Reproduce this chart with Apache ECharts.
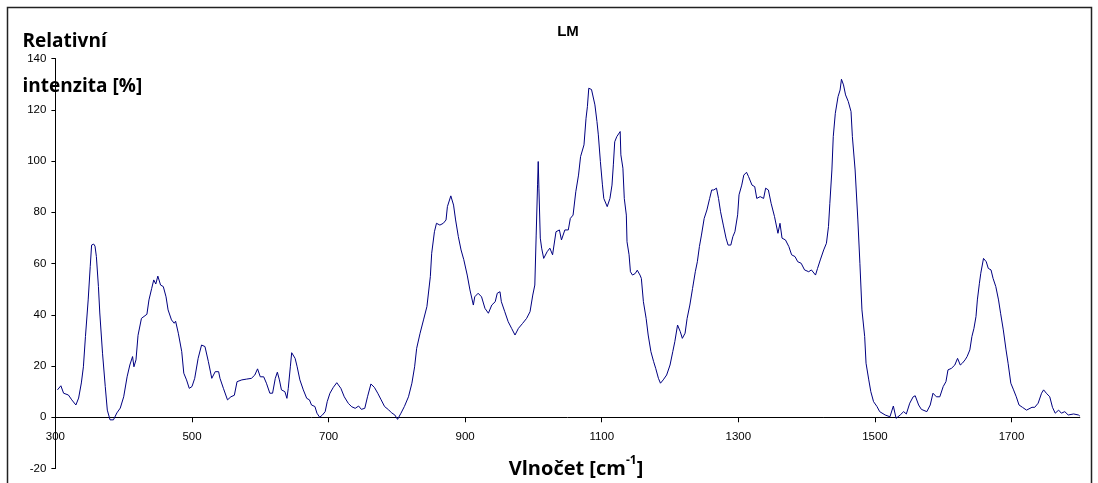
<!DOCTYPE html>
<html>
<head>
<meta charset="utf-8">
<script src="https://cdn.jsdelivr.net/npm/echarts@6/dist/echarts.min.js"></script>
<style>
html,body{margin:0;padding:0;background:#fff;}
#c{width:1098px;height:483px;}
</style>
</head>
<body>
<div id="c"></div>
<script>
// Wavenumbers [cm-1] and relative intensity [%]
const wavenumbers = [
303,308,312,319,324,330,334,338,341,344,348,351,353,356,358,360,363,365,369,373,376,380,385,390,395,400,405,409,413,415,418,421,426,434,437,441,444,447,450,454,458,462,465,470,474,476,480,485,488,492,496,500,
504,509,514,519,524,529,534,539,541,546,552,557,562,566,573,580,587,592,596,600,605,609,614,618,622,625,628,631,636,639,641,644,646,651,654,658,663,668,672,675,680,683,687,691,695,698,702,707,712,
714,718,723,729,734,739,744,748,753,757,762,767,772,777,782,788,792,797,801,806,811,817,822,826,829,834,839,844,849,851,855,858,863,868,872,874,879,883,886,890,894,898,
903,907,912,914,919,924,929,934,939,944,947,951,953,958,963,968,973,978,984,990,995,999,1002,1004,1006,1007,1008,1010,1012,1015,1020,1024,1028,1033,1038,1041,1046,1051,1054,1058,1062,1066,1069,1074,1077,1079,1081,1085,1090,1093,1095,1098,1101,
1103,1108,1112,1115,1117,1119,1122,1124,1127,1128,1131,1133,1136,1137,1140,1142,1145,1149,1152,1156,1158,1161,1165,1168,1172,1176,1179,1183,1186,1190,1195,1200,1204,1207,1211,1215,1218,1222,1225,1229,1233,1237,1240,1243,1246,1250,1254,1258,1261,1264,1268,1271,1274,1278,1282,1285,1289,1292,1295,1299,1301,1305,1308,1312,
1315,1320,1324,1327,1332,1337,1340,1344,1348,1353,1358,1361,1364,1369,1374,1378,1383,1387,1392,1397,1403,1407,1413,1416,1420,1425,1429,1432,1434,1437,1439,1442,1446,1449,1451,1454,1457,1461,1465,1467,1471,1475,1478,1481,1485,1487,1491,1494,1498,1503,
1507,1515,1522,1527,1531,1537,1542,1546,1551,1556,1559,1564,1568,1576,1581,1585,1590,1595,1600,1604,1607,1612,1617,1621,1625,1628,1632,1635,1639,1642,1645,1648,1650,1653,1655,1659,1663,1666,1670,1673,1677,1681,1684,1688,1692,1695,1699,1703,1707,1711,1716,1722,1730,1734,1739,1744,1747,1751,1756,1760,1764,1769,1773,1778,1783,1791,1798,1800
];
const intensity = [
10.7,12.3,9.4,8.7,6.8,4.8,7.5,13.4,19.7,31.5,45.8,58.8,67.2,67.6,66.8,62.7,51,40.7,25,12,2.8,-1,-1,1.7,3.6,8,15.8,20.4,23.7,19.7,22.4,32,38.6,40.2,45.8,50.3,53.6,52,55.1,51.6,51,47,41.9,38,36.7,37.5,32.8,25.6,17.2,14.6,11.3,12,
15.2,23,28.2,27.6,21.7,15.2,17.8,17.8,15.2,11.3,6.8,8,8.6,13.9,14.6,14.9,15.2,16.5,18.9,15.8,15.8,13.3,9.4,9.4,15.2,17.6,14.6,10.7,10,7.4,11.3,19.7,25.2,23,19.7,14.6,10.7,7.4,6.8,4.8,4.2,1.6,0,0.9,2.2,6.1,9.4,11.7,13.5,
13.9,11.3,8,5.4,4.1,3.5,4.4,3.1,3.5,8,13,11.7,9.4,6.8,4.2,2.9,1.8,0.9,-0.8,1.6,4.2,8,13.3,19.7,26.9,32.8,38,43.2,54.9,64,72.4,75.7,75,75.7,77,82.2,86.4,82.8,77,70.5,65.3,61.5,
55.5,49.7,43.8,47,48.4,47,42.5,40.6,43.8,45.1,48.4,49,45.1,41.2,37.3,34.7,32.1,34.7,36.6,38.6,41.2,47.7,51.6,71.1,90.7,99.8,89.4,69.9,66,62,64.6,66,63.4,72.4,73.1,69.2,73.1,73.1,77.6,78.9,88,94.5,101.7,106.3,116.7,121.2,128.4,127.9,121.9,115.4,110.2,99.8,90.7,
85.4,82.2,85.4,90.6,98.5,107.5,109.5,110.2,111.5,102.4,97.2,85.4,78.9,68.5,63.4,56.8,55.5,56.1,57.4,55.5,54.2,45.1,38.6,32.1,25.6,21.7,19.1,15.2,13.3,14.6,16.5,20.4,25.6,29.5,36,33.4,30.8,32.8,38.6,43.8,50.3,56.8,60.7,66.6,71.1,77.6,80.9,85.4,88.7,88.7,89.4,85.4,80.2,75,69.9,67.2,67.2,70.5,72.4,79,86.8,90.6,94.5,95.6,
93.9,90.6,90,85.4,86.1,85.4,89.4,88.7,83.5,78.3,71.8,75.7,69.9,69.2,66.6,63.4,62.7,60.7,60.1,57.5,56.8,57.5,55.5,58.1,61.4,65.3,67.9,74.4,83.5,96.5,109.5,118.6,125.1,127.7,131.9,129.7,125.8,123.2,119.3,109.5,96.5,77,60.1,41.9,31.5,21.1,14.6,10,6.1,4.2,
2.2,0.9,0.2,4.4,-0.4,0.9,2.2,1.3,5.5,8,8.4,4.8,3.1,2.2,4.8,9.4,8,8,12,13.9,18.5,19.1,20.4,23,20.4,21.1,22.4,23.7,26.3,31.5,34.7,39.3,45.8,52.3,56.2,62,60.7,58.1,57.5,54.2,51,45.8,40.6,34.1,26.3,21.1,13.3,10.7,8,4.8,3.9,2.8,3.9,3.9,5.5,9.4,10.7,9.4,8,3.9,1.6,2.8,1.6,2.2,0.9,1.3,0.9,0.5
];
const xTickValues = [300,500,700,900,1100,1300,1500,1700];
const yTickValues = [-20,0,20,40,60,80,100,120,140];
const chartTitle = 'LM';
const yTitleLines = ['Relativní', 'intenzita [%]'];
const xTitleMain = 'Vlnočet [cm';
const xTitleSup = '-1';

const seriesData = wavenumbers.map((w, i) => [w, intensity[i]]);

const chart = echarts.init(document.getElementById('c'), null, {renderer: 'canvas'});
const labelFont = {fontFamily: 'Liberation Sans, Arial, sans-serif', fontSize: 11.5, color: '#000'};
const titleFont = 'Open Sans, Noto Sans, sans-serif';

// grid geometry (pixels)
const gridTop = 58.5, gridBottomPx = 468.55;
const yMin = yTickValues[0], yMax = yTickValues[yTickValues.length - 1];
const zeroOffset = -(gridBottomPx - gridTop) * (0 - yMin) / (yMax - yMin); // move x axis up to y=0

chart.setOption({
  animation: false,
  backgroundColor: '#fff',
  grid: {left: 55.4, right: 18.2, top: gridTop, bottom: 483 - gridBottomPx, containLabel: false, outerBoundsMode: 'none'},
  xAxis: {
    type: 'value', min: 300, max: 1800, interval: 200,
    position: 'bottom', offset: zeroOffset,
    axisLine: {show: true, onZero: false, lineStyle: {color: '#000', width: 1}},
    axisTick: {show: true, length: 5, customValues: xTickValues, lineStyle: {color: '#000'}},
    axisLabel: Object.assign({margin: 14, customValues: xTickValues, formatter: v => String(v)}, labelFont),
    splitLine: {show: false}
  },
  yAxis: {
    type: 'value', min: yMin, max: yMax, interval: 20,
    axisLine: {show: true, onZero: false, lineStyle: {color: '#000', width: 1}},
    axisTick: {show: true, length: 4, lineStyle: {color: '#000'}},
    axisLabel: Object.assign({margin: 9, formatter: v => String(v)}, labelFont),
    splitLine: {show: false}
  },
  series: [{
    type: 'line', data: seriesData, showSymbol: false, symbol: 'none',
    lineStyle: {color: '#000080', width: 1}, itemStyle: {color: '#000080'}
  }],
  graphic: [
    {type: 'rect', shape: {x: 7.5, y: 7.5, width: 1084, height: 500}, style: {fill: 'none', stroke: '#222', lineWidth: 1.5}, silent: true},
    {type: 'text', x: 568, y: 32, style: {text: chartTitle, font: 'bold 15px Liberation Sans, Arial, sans-serif', fill: '#000', textAlign: 'center', textVerticalAlign: 'middle'}},
    {type: 'text', x: 22.5, y: 41.5, style: {text: yTitleLines[0], font: 'bold 19px ' + titleFont, fill: '#000', textAlign: 'left', textVerticalAlign: 'middle'}},
    {type: 'text', x: 22.5, y: 86.5, style: {text: yTitleLines[1], font: 'bold 19px ' + titleFont, fill: '#000', textAlign: 'left', textVerticalAlign: 'middle'}},
    {type: 'text', x: 576, y: 467, style: {
      text: '{a|' + xTitleMain + '}{s|' + xTitleSup + '}{a|]}',
      textAlign: 'center', textVerticalAlign: 'middle',
      rich: {
        a: {fontFamily: titleFont, fontWeight: 'bold', fontSize: 20, fill: '#000', lineHeight: 24, verticalAlign: 'bottom'},
        s: {fontFamily: titleFont, fontWeight: 'bold', fontSize: 12, fill: '#000', lineHeight: 12, verticalAlign: 'top'}
      }
    }}
  ]
});
</script>
</body>
</html>
